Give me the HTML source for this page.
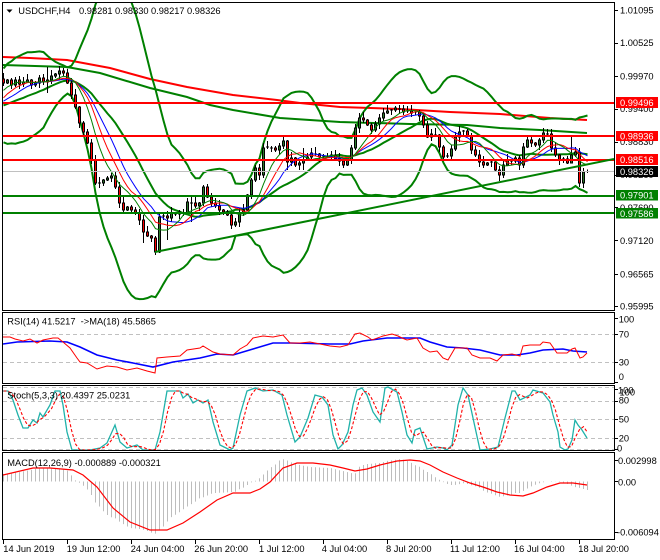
<!DOCTYPE html>
<html><head><meta charset="utf-8">
<style>
html,body{margin:0;padding:0;background:#fff;width:660px;height:560px;overflow:hidden}
svg{display:block}
text{font-family:"Liberation Sans",Arial,sans-serif;font-size:9.3px;fill:#000}
.w{fill:#fff}
</style></head><body>
<svg id="S" xmlns="http://www.w3.org/2000/svg" width="660" height="560" viewBox="0 0 660 560">
<defs>
<clipPath id="cm"><rect x="3" y="3" width="611" height="307"/></clipPath>
<clipPath id="cr"><rect x="3" y="313" width="611" height="70"/></clipPath>
<clipPath id="cs"><rect x="3" y="386" width="611" height="64"/></clipPath>
<clipPath id="cd"><rect x="3" y="453" width="611" height="86"/></clipPath>
</defs>
<rect x="0" y="0" width="660" height="560" fill="#fff"/>

<!-- MAIN CHART -->
<g clip-path="url(#cm)">
  <polyline fill="none" stroke="#ff0000" stroke-width="2" points="3,57 30,58 67,60 110,68 150,79 187,87 233,95 277,100 300,103 340,107 400,109 450,112 500,114 550,118 587,120"/>
  <polyline fill="none" stroke="#008000" stroke-width="2" points="3,65 67,67 100,73 150,88 187,97 210,105 233,110 280,118 340,122 410,124 467,125 500,128 540,130 587,133"/>
  <g id="bb"></g>
  <g id="cdl"></g>
  <g id="tma"></g>
  <line x1="3" x2="614" y1="171.5" y2="171.5" stroke="#c0c0c0" stroke-width="1"/>
  <line x1="3" x2="614" y1="103" y2="103" stroke="#ff0000" stroke-width="2"/>
  <line x1="3" x2="614" y1="136" y2="136" stroke="#ff0000" stroke-width="2"/>
  <line x1="3" x2="614" y1="160" y2="160" stroke="#ff0000" stroke-width="2"/>
  <line x1="3" x2="614" y1="196" y2="196" stroke="#008000" stroke-width="2"/>
  <line x1="3" x2="614" y1="213" y2="213" stroke="#008000" stroke-width="2"/>
  <line x1="155" y1="252" x2="614" y2="159" stroke="#008000" stroke-width="2"/>
</g>

<!-- RSI -->
<g clip-path="url(#cr)">
  <line x1="3" x2="614" y1="334.5" y2="334.5" stroke="#c0c0c0" stroke-dasharray="4,3"/>
  <line x1="3" x2="614" y1="362.5" y2="362.5" stroke="#c0c0c0" stroke-dasharray="4,3"/>
  <polyline fill="none" stroke="#0000ff" stroke-width="1.6" points="3,344 17,342 50,341 67,342 80,347 97,355 117,360 133,363 153,367 173,362 200,358 217,354 233,355 253,349 273,343 290,343 330,344 350,344 363,341 387,338 420,338 430,342 447,347 463,348 480,350 500,355 517,355 530,353 543,350 563,349 573,351 587,352"/>
  <polyline fill="none" stroke="#ff0000" stroke-width="1" points="3,337 10,337 15,339 23,341 30,339 37,343 43,340 53,338 58,338 63,342 70,348 77,358 80,362 87,363 97,369 107,366 117,367 127,370 137,368 147,371 155,373 157,358 167,357 180,356 187,350 200,348 203,346 213,352 220,354 233,355 240,349 247,345 253,338 263,336 273,337 283,335 290,343 300,343 310,342 330,346 340,347 348,345 355,334 360,333 368,337 372,340 383,336 392,334 398,336 402,338 407,340 417,338 423,348 430,352 437,351 443,358 448,360 455,348 462,348 467,348 472,355 480,358 490,358 497,361 503,355 512,354 520,356 523,346 530,345 540,345 543,342 550,343 557,353 567,353 572,349 575,348 580,358 583,357 587,353"/>
</g>

<!-- STOCH -->
<g clip-path="url(#cs)" id="stoch">
  <line x1="3" x2="614" y1="387.5" y2="387.5" stroke="#c8c8c8" stroke-dasharray="4,3"/>
  <line x1="3" x2="614" y1="401.5" y2="401.5" stroke="#c0c0c0" stroke-dasharray="4,3"/>
  <line x1="3" x2="614" y1="419.5" y2="419.5" stroke="#c0c0c0" stroke-dasharray="4,3"/>
  <line x1="3" x2="614" y1="438.5" y2="438.5" stroke="#c0c0c0" stroke-dasharray="4,3"/>
  <line x1="3" x2="614" y1="449.5" y2="449.5" stroke="#c8c8c8" stroke-dasharray="4,3"/>
  <polyline id="teal" fill="none" stroke="#20b2aa" stroke-width="1.3" points="3,391 8,391 13,400 18,415 23,428 28,428 33,420 37,423 40,413 43,417 50,405 55,391 60,391 63,405 67,432 72,450 80,450 90,450 100,448 107,443 115,425 120,442 127,448 137,445 143,450 155,450 160,432 167,391 180,391 183,398 188,394 193,403 198,400 203,403 208,400 213,422 220,445 230,450 233,448 240,415 247,391 255,388 263,391 273,390 282,395 287,415 295,442 300,437 308,418 315,395 322,397 328,405 333,435 338,449 342,445 348,432 353,405 357,390 362,388 367,395 373,412 380,422 385,388 388,387 397,392 402,412 407,435 412,443 415,430 420,428 427,449 437,447 443,448 447,450 452,445 458,405 463,388 468,395 473,418 480,450 490,449 498,447 505,418 512,391 515,391 520,400 530,395 533,390 543,393 550,402 553,415 558,432 560,447 565,450 568,449 572,440 575,420 578,425 582,430 587,438"/>
</g>

<!-- MACD -->
<g clip-path="url(#cd)">
  <g id="hist"></g>
  <polyline fill="none" stroke="#ff0000" stroke-width="1.2" points="3,475 33,468 50,468 73,470 83,475 97,487 113,508 130,522 150,530 167,530 183,523 200,512 217,500 233,493 250,493 260,489 270,482 283,468 297,463 313,463 330,465 343,468 355,471 367,469 380,465 397,461 410,460 420,461 430,465 443,472 457,478 470,483 483,487 497,492 510,495 523,496 533,493 547,487 560,483 573,483 587,485"/>
</g>

<!-- Panel frames -->
<g fill="none" stroke="#000" stroke-width="1" shape-rendering="crispEdges">
  <rect x="2.5" y="2.5" width="612" height="308"/>
  <rect x="2.5" y="312.5" width="612" height="71"/>
  <rect x="2.5" y="385.5" width="612" height="65"/>
  <rect x="2.5" y="452.5" width="612" height="87"/>
  <path d="M614 10.5H618M614 43.5H618M614 76.5H618M614 109.5H618M614 142.5H618M614 175.5H618M614 207.5H618M614 240.5H618M614 274.5H618M614 306.5H618"/>
  <path d="M614 318.5H618M614 334.5H618M614 362.5H618M614 382.5H618M614 389.5H618M614 401.5H618M614 419.5H618M614 438.5H618M614 449.5H618M614 460.5H618M614 481.5H618M614 532.5H618"/>
  <path d="M3.5 540V544M67.5 540V544M131.5 540V544M195.5 540V544M259.5 540V544M323.5 540V544M387.5 540V544M451.5 540V544M515.5 540V544M579.5 540V544"/>
</g>

<!-- Headers -->
<polygon points="6.5,9.5 12.5,9.5 9.5,12.8" fill="#000"/>
<text x="18.3" y="14">USDCHF,H4</text>
<text x="79" y="14">0.98281</text>
<text x="115" y="14">0.98330</text>
<text x="151" y="14">0.98217</text>
<text x="187" y="14">0.98326</text>
<text x="7.3" y="324.3" xml:space="preserve">RSI(14) 41.5217  -&gt;MA(18) 45.5865</text>
<text x="7.3" y="398.3">Stoch(5,3,3) 20.4397 25.0231</text>
<text x="7.3" y="466">MACD(12,26,9) -0.000889 -0.000321</text>

<!-- Price axis labels -->
<text x="620" y="13.3">1.01095</text>
<text x="620" y="46">1.00525</text>
<text x="620" y="79.5">0.99970</text>
<text x="620" y="112">0.99400</text>
<text x="620" y="145">0.98830</text>
<text x="620" y="178">0.98260</text>
<text x="620" y="211">0.97690</text>
<text x="620" y="243.8">0.97120</text>
<text x="620" y="277.5">0.96565</text>
<text x="620" y="309.3">0.95995</text>

<g shape-rendering="crispEdges">
<rect x="616" y="97" width="42" height="11" fill="#ff0000"/>
<rect x="616" y="131" width="42" height="10" fill="#ff0000"/>
<rect x="616" y="154" width="42" height="11" fill="#ff0000"/>
<rect x="616" y="166" width="42" height="11" fill="#000000"/>
<rect x="616" y="190" width="42" height="10.5" fill="#008000"/>
<rect x="616" y="208" width="42" height="10.5" fill="#008000"/>
</g>
<text class="w" x="620" y="106">0.99496</text>
<text class="w" x="620" y="139.6">0.98936</text>
<text class="w" x="620" y="163.2">0.98516</text>
<text class="w" x="620" y="175.2">0.98326</text>
<text class="w" x="620" y="198.6">0.97901</text>
<text class="w" x="620" y="216.8">0.97586</text>

<!-- Indicator axis labels -->
<text x="618.7" y="322.7">100</text>
<text x="618.7" y="337.7">70</text>
<text x="618.7" y="365.7">30</text>
<text x="618.7" y="380">0</text>
<text x="618" y="393.5">100</text>
<text x="619.5" y="395.5">100</text>
<text x="618.7" y="403.3">80</text>
<text x="618.7" y="422.7">50</text>
<text x="618.7" y="441.7">20</text>
<text x="617" y="451.5">0</text>
<text x="618" y="464">0.002998</text>
<text x="618" y="485.3">0.00</text>
<text x="617" y="535.7">-0.006094</text>

<!-- Time axis labels -->
<text x="3.3" y="552">14 Jun 2019</text>
<text x="66.7" y="552">19 Jun 12:00</text>
<text x="130.7" y="552">24 Jun 04:00</text>
<text x="194.3" y="552">26 Jun 20:00</text>
<text x="259" y="552">1 Jul 12:00</text>
<text x="321.7" y="552">4 Jul 04:00</text>
<text x="386" y="552">8 Jul 20:00</text>
<text x="450" y="552">11 Jul 12:00</text>
<text x="514" y="552">16 Jul 04:00</text>
<text x="578.3" y="552">18 Jul 20:00</text>
</svg>

<script>
(function(){
var NS="http://www.w3.org/2000/svg";
function E(t,a,p){var e=document.createElementNS(NS,t);for(var k in a)e.setAttribute(k,a[k]);p.appendChild(e);return e;}
function $(id){return document.getElementById(id);}
var pre=[114,112,115,112,114,111,114,115,112,113,112,120,115,110,105,99,94,89,84,79];
var C=[83,80,85,80,84,82,80,85,83,78,
82,80,76,74,71,73,83,95,107,123,
132,143,160,183,183,180,178,176,187,203,
210,207,210,213,220,232,236,238,252,217,
216,218,213,214,212,213,202,203,206,203,
187,197,203,206,210,212,215,225,222,213,
210,195,180,168,175,148,147,148,150,146,
141,162,158,165,163,160,157,153,154,157,
156,156,155,159,161,165,160,148,128,118,
120,125,130,124,118,113,111,110,108,109,
112,111,113,112,116,125,137,134,135,147,
157,156,149,137,132,131,136,150,155,162,
165,163,162,170,175,165,160,161,158,165,
147,140,143,145,140,133,134,148,155,160,
159,163,155,152,183,172,171.5];
var A=pre.concat(C),P=pre.length,N=C.length;
function X(i){return 3+4*i+0.5;}
function sma(n,i){var s=0;for(var k=0;k<n;k++)s+=A[P+i-k];return s/n;}
function pl(pts,at,par){at.points=pts.map(function(p){return p[0].toFixed(1)+","+p[1].toFixed(1);}).join(" ");at.fill="none";return E("polyline",at,par);}
/* Bollinger 20,3 */
var up=[],mid=[],lo=[];
for(var i=0;i<N;i++){var m=sma(20,i),v=0;for(var k=0;k<20;k++){var d=A[P+i-k]-m;v+=d*d;}var sd=Math.sqrt(v/20);
mid.push([X(i),m]);up.push([X(i),m-3*sd]);lo.push([X(i),m+3*sd]);}
var g=$("bb");
[up,mid,lo].forEach(function(a){pl(a,{stroke:"#008000","stroke-width":2},g);});
/* candles */
var W={11:[67,93],14:[66,null],35:[null,243],38:[null,255],39:[null,253],41:[null,240],47:[null,222],71:[140,170],75:[148,170],89:[113,null],124:[null,181],131:[136,null],132:[137,null],135:[128,null],142:[137,163],144:[148,187],145:[168,188]};
var gc=$("cdl"),wk="";
var bodies=[];
for(var i=0;i<N;i++){var o=A[P+i-1],c=A[P+i],x=X(i);var t=Math.min(o,c),b=Math.max(o,c);
var hu=1+((i*37+11)%6),hd=1+((i*53+7)%5);var hi=t-hu,lw=b+hd;
if(W[i]){if(W[i][0]!=null)hi=W[i][0];if(W[i][1]!=null)lw=W[i][1];}
wk+="M"+x+" "+hi.toFixed(1)+"V"+lw.toFixed(1);
bodies.push([x,o,c,t,b]);}
E("path",{d:wk,stroke:"#000","stroke-width":1,fill:"none"},gc);
bodies.forEach(function(q){var x=q[0],o=q[1],c=q[2],t=q[3],b=q[4];
if(b-t<1.2){E("line",{x1:x-1.5,x2:x+1.5,y1:c,y2:c,stroke:"#000","stroke-width":1},gc);}
else{E("rect",{x:x-1,y:t,width:2,height:b-t,fill:(c<o?"#2b7a2b":"#ff0000"),stroke:"#000","stroke-width":1},gc);}});
/* thin MAs */
var g2=$("tma");
[[13,"#0000ff"],[10,"#ff0000"],[7,"#008000"]].forEach(function(q){var a=[];for(var i=0;i<N;i++)a.push([X(i),sma(q[0],i)]);pl(a,{stroke:q[1],"stroke-width":1},g2);});
/* interpolation */
function interp(Pt,x){for(var k=0;k<Pt.length-1;k++){if(x>=Pt[k][0]&&x<=Pt[k+1][0]){var f=(x-Pt[k][0])/((Pt[k+1][0]-Pt[k][0])||1);return Pt[k][1]+f*(Pt[k+1][1]-Pt[k][1]);}}return x<Pt[0][0]?Pt[0][1]:Pt[Pt.length-1][1];}
/* stoch signal */
var T=$("teal").getAttribute("points").trim().split(/\s+/).map(function(s){var a=s.split(",");return [parseFloat(a[0]),parseFloat(a[1])];});
var mS=[];for(var i=0;i<N;i++)mS.push(interp(T,X(i)));
var sg=[];for(var i=0;i<N;i++){var a=mS[Math.max(0,i-2)],b=mS[Math.max(0,i-1)],c=mS[i];sg.push([X(i),(a+b+c)/3]);}
pl(sg,{stroke:"#ff0000","stroke-width":1.1,"stroke-dasharray":"3,2"},$("stoch"));
/* MACD histogram */
var H=[[3,474],[20,472],[40,468],[60,469],[67,470],[72,476],[76,481],[80,483],[85,487],[90,492],[95,502],[100,507],[105,513],[110,517],[115,518],[120,522],[125,525],[130,528],[140,529],[145,530],[150,532],[155,534],[160,530],[165,525],[170,518],[175,515],[180,512],[185,508],[190,505],[195,502],[200,498],[205,497],[210,494],[215,493],[235,492],[240,489],[245,487],[250,483],[255,481],[260,478],[265,473],[270,468],[275,465],[280,460],[285,459],[290,462],[300,465],[310,467],[330,468],[343,471],[355,474],[360,466],[367,464],[380,463],[387,461],[400,459],[405,460],[410,462],[415,465],[420,467],[425,471],[430,473],[435,477],[440,480],[445,483],[450,485],[455,485],[465,483],[470,485],[475,486],[480,488],[485,492],[490,493],[495,495],[500,497],[510,495],[515,493],[520,493],[525,490],[530,487],[535,485],[540,483],[545,482],[550,481],[560,482],[565,483],[570,485],[575,487],[580,488],[587,490]];
var hp="";for(var i=0;i<N;i++){var y=interp(H,X(i));hp+="M"+X(i)+" 481.5V"+y.toFixed(1);}
E("path",{d:hp,stroke:"#bdbdbd","stroke-width":1,fill:"none"},$("hist"));
})();
</script>
</body></html>
